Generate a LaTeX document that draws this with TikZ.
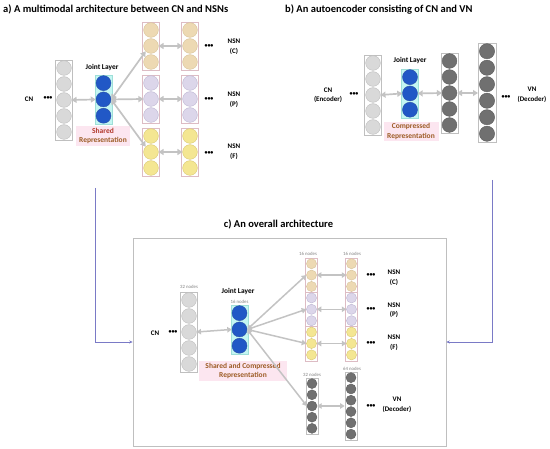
\documentclass[tikz,border=0pt]{standalone}
\usepackage{fontspec}
\setmainfont{Carlito}
\usetikzlibrary{arrows.meta}
\definecolor{cngray}{HTML}{D9D9D9}
\definecolor{cnedge}{HTML}{BDBDBD}
\definecolor{boxgray}{HTML}{BFBFBF}
\definecolor{jblue}{HTML}{2158C6}
\definecolor{jedge}{HTML}{2A4FA8}
\definecolor{jfill}{HTML}{C4F6F2}
\definecolor{jbedge}{HTML}{9EDFD8}
\definecolor{cfill}{HTML}{EDD9B3}
\definecolor{cedge}{HTML}{D7C29A}
\definecolor{pfill}{HTML}{DCD6EA}
\definecolor{pedge}{HTML}{BDB5D2}
\definecolor{ffill}{HTML}{F4E692}
\definecolor{fedge}{HTML}{D9C874}
\definecolor{nedge}{HTML}{DDBCC4}
\definecolor{vfill}{HTML}{707070}
\definecolor{vedge}{HTML}{5C5C5C}
\definecolor{arrgray}{HTML}{C3C3C3}
\definecolor{connblue}{HTML}{7A7AC6}
\definecolor{repbg}{HTML}{FCE6F0}
\definecolor{redtxt}{HTML}{B2382C}
\definecolor{browntxt}{HTML}{9C5B24}
\definecolor{nodestxt}{HTML}{808080}
\newcommand{\mylayer}[7]{%
  \node[#7, minimum width=#5pt+1pt, minimum height=#4*#5pt, anchor=north] (#1) at (#2,#3) {};
  \foreach \i in {1,...,#4}{\node[#6, minimum size=#5pt-1.3pt] (#1-\i) at (#2,{#3+(\i-0.5)*#5}) {};}
}
\tikzset{
  cnc/.style={circle, fill=cngray, draw=cnedge, line width=0.4pt, inner sep=0},
  jc/.style={circle, fill=jblue, draw=jedge, line width=0.4pt, inner sep=0},
  cc/.style={circle, fill=cfill, draw=cedge, line width=0.4pt, inner sep=0},
  pc/.style={circle, fill=pfill, draw=pedge, line width=0.4pt, inner sep=0},
  fc/.style={circle, fill=ffill, draw=fedge, line width=0.4pt, inner sep=0},
  vc/.style={circle, fill=vfill, draw=vedge, line width=0.4pt, inner sep=0},
  colbox/.style={rectangle, draw=boxgray, fill=white, line width=0.5pt, inner sep=0},
  jbox/.style={rectangle, draw=jbedge, fill=jfill, line width=0.5pt, inner sep=0},
  nbox/.style={rectangle, draw=nedge, fill=white, line width=0.5pt, inner sep=0},
  garr/.style={draw=arrgray, line width=1.7pt, {Triangle[length=5pt,width=6pt]}-{Triangle[length=5pt,width=6pt]}},
  garrc/.style={draw=arrgray, line width=1.5pt, {Triangle[length=4.5pt,width=5.5pt]}-{Triangle[length=4.5pt,width=5.5pt]}},
  bconn/.style={draw=connblue, line width=0.9pt, -{Stealth[length=3.5pt,width=3pt]}},
  ttl/.style={font=\bfseries\fontsize{10.5}{12}\selectfont, inner sep=0},
  lab/.style={font=\bfseries\fontsize{7}{9.5}\selectfont, align=center, inner sep=0},
  jlab/.style={font=\bfseries\fontsize{7.4}{9}\selectfont, inner sep=0},
  dots/.style={font=\bfseries\fontsize{6}{7}\selectfont, inner sep=0},
  rep/.style={font=\bfseries\fontsize{7.5}{9.6}\selectfont, align=center, fill=repbg, inner sep=1.5pt, text=browntxt},
  ncount/.style={font=\fontsize{4.8}{5}\selectfont, text=nodestxt, inner sep=0}
}
\begin{document}
\begin{tikzpicture}[x=1pt,y=-1pt]
\useasboundingbox (0,0) rectangle (550,449);

% ---------- part a ----------
\node[ttl, anchor=west] (ta) at (3,9.5) {a) A multimodal architecture between CN and NSNs};
\mylayer{acn}{64}{60}{5}{16}{cnc}{colbox}
\node[lab] (acnl) at (29,99) {CN};
\node[dots] (acnd) at (48,98.5) {•••};
\mylayer{aj}{103.5}{75}{3}{16.3}{jc}{jbox}
\node[jlab] (ajl) at (102,67) {Joint Layer};
\node[rep, minimum width=54pt] (arep) at (103,136) {\textcolor{redtxt}{Shared}\\Representation};
\mylayer{ac1}{151}{22}{3}{16}{cc}{nbox}
\mylayer{ap1}{151}{75}{3}{16}{pc}{nbox}
\mylayer{af1}{151}{128}{3}{16}{fc}{nbox}
\mylayer{ac2}{190}{22}{3}{16}{cc}{nbox}
\mylayer{ap2}{190}{75}{3}{16}{pc}{nbox}
\mylayer{af2}{190}{128}{3}{16}{fc}{nbox}
\node[dots] (acd) at (209,46.5) {•••};
\node[dots] (apd) at (209,99) {•••};
\node[dots] (afd) at (209,153.5) {•••};
\node[lab] (acl) at (234,46.5) {NSN\\(C)};
\node[lab] (apl) at (234,99.5) {NSN\\(P)};
\node[lab] (afl) at (234,151.5) {NSN\\(F)};
\draw[garr] (acn-3.east) -- (aj-2.west);
\draw[garr] (aj-2.east) -- (ac1-2.south west);
\draw[garr] (aj-2.east) -- (ap1-2.west);
\draw[garr] (aj-2.east) -- (af1-2.north west);
\draw[garr] (ac1-2.east) -- (ac2-2.west);
\draw[garr] (ap1-2.east) -- (ap2-2.west);
\draw[garr] (af1-2.east) -- (af2-2.west);

% ---------- part b ----------
\node[ttl, anchor=west] (tb) at (285,9.5) {b) An autoencoder consisting of CN and VN};
\mylayer{bcn}{373}{55}{5}{16}{cnc}{colbox}
\node[lab] (bcnl) at (328,95) {CN\\(Encoder)};
\node[dots] (bcnd) at (354,94.5) {•••};
\mylayer{bj}{410}{69}{3}{16.3}{jc}{jbox}
\node[jlab] (bjl) at (410,60) {Joint Layer};
\node[rep, minimum width=55pt] (brep) at (411,131.5) {Compressed\\Representation};
\mylayer{bv1}{449.5}{53}{5}{16}{vc}{colbox}
\mylayer{bv2}{487}{43}{6}{16.5}{vc}{colbox}
\node[dots] (bvd) at (506,97) {•••};
\node[lab] (bvl) at (532,95) {VN\\(Decoder)};
\draw[garr] (bcn-3.east) -- (bj-2.west);
\draw[garr] (bj-2.east) -- (bv1-3.west);
\draw[garr] (bv1-3.east) -- (bv2.west |- bv1-3);

% ---------- part c ----------
\node[ttl] (tc) at (278.5,224) {c) An overall architecture};
\node[rectangle, draw=boxgray, line width=0.6pt, minimum width=313pt, minimum height=208pt] (frame) at (289.5,342) {};
\coordinate (ls) at (95,188);
\coordinate (rs) at (492,180);
\draw[bconn] (ls) |- (frame.west);
\draw[bconn] (rs) |- (frame.east);

\node[ncount] (ccnn) at (189,287) {32 nodes};
\mylayer{ccn}{189}{292}{5}{16}{cnc}{colbox}
\node[lab] (ccnl) at (155,333) {CN};
\node[dots] (ccnd) at (173,332.5) {•••};
\node[jlab] (cjl) at (238,291) {Joint Layer};
\node[ncount] (cjn) at (239.5,301.5) {16 nodes};
\mylayer{cj}{239.5}{305}{3}{16.3}{jc}{jbox}
\node[rep, minimum width=88pt] (crep) at (243,371) {Shared and Compressed\\Representation};

\node[ncount] (cc1n) at (308,254) {16 nodes};
\node[ncount] (cc2n) at (352,254) {16 nodes};
\mylayer{cc1}{311.5}{258}{3}{11.4}{cc}{nbox}
\mylayer{cp1}{311.5}{292.2}{3}{11.4}{pc}{nbox}
\mylayer{cf1}{311.5}{326.4}{3}{11.4}{fc}{nbox}
\mylayer{cc2}{351.5}{258}{3}{11.4}{cc}{nbox}
\mylayer{cp2}{351.5}{292.2}{3}{11.4}{pc}{nbox}
\mylayer{cf2}{351.5}{326.4}{3}{11.4}{fc}{nbox}
\node[dots] (ccd) at (371,275) {•••};
\node[dots] (cpd) at (371,309) {•••};
\node[dots] (cfd) at (371,343.5) {•••};
\node[lab] (ccl) at (394,277.5) {NSN\\(C)};
\node[lab] (cpl) at (394,310) {NSN\\(P)};
\node[lab] (cfl) at (394,342.5) {NSN\\(F)};

\node[ncount, anchor=south] (cv1n) at (312,377) {32 nodes};
\node[ncount, anchor=south] (cv2n) at (352,371) {64 nodes};
\mylayer{cv1}{312}{378}{5}{11.2}{vc}{colbox}
\mylayer{cv2}{351}{372}{6}{11.3}{vc}{colbox}
\node[dots] (cvd) at (371,406) {•••};
\node[lab] (cvl) at (397,405) {VN\\(Decoder)};

\draw[garrc] (ccn-3.east) -- (cj-2.west);
\draw[garrc] (cj-2.east) -- (cc1-2.west);
\draw[garrc] (cj-2.east) -- (cp1-2.west);
\draw[garrc] (cj-2.east) -- (cf1-2.west);
\draw[garrc] (cj-2.east) -- (cv1-3.west);
\draw[garrc] (cc1-2.east) -- (cc2-2.west);
\draw[garrc] (cp1-2.east) -- (cp2-2.west);
\draw[garrc] (cf1-2.east) -- (cf2-2.west);
\draw[garrc] (cv1-3.east) -- (cv2.west |- cv1-3);
\end{tikzpicture}
\end{document}
